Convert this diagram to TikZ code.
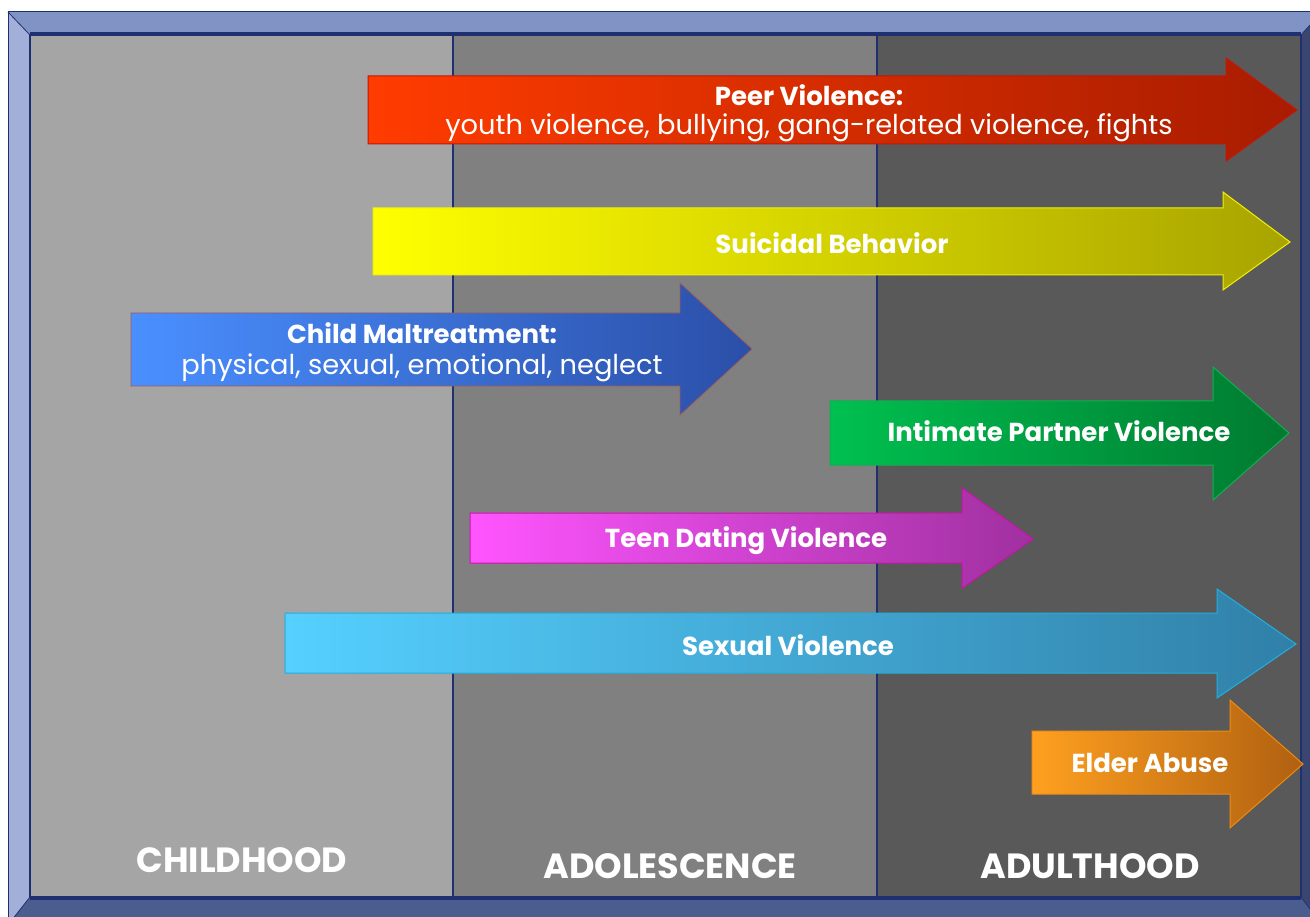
\documentclass[tikz,border=0pt]{standalone}
\usepackage{fontspec}
\setmainfont{Poppins}
\definecolor{frameline}{HTML}{1F3070}
\definecolor{bevtop}{HTML}{8093C4}
\definecolor{bevleft}{HTML}{A2AFD8}
\definecolor{bevbot}{HTML}{4B5C8E}
\definecolor{bevright}{HTML}{3A4670}
\definecolor{childc}{HTML}{A5A5A5}
\definecolor{adolc}{HTML}{808080}
\definecolor{adultc}{HTML}{595959}
\definecolor{redL}{HTML}{FF3C00}\definecolor{redR}{HTML}{A81C00}\definecolor{redB}{HTML}{C81408}
\definecolor{yelL}{HTML}{FFFF00}\definecolor{yelR}{HTML}{A8A400}\definecolor{yelB}{HTML}{F2F000}
\definecolor{bluL}{HTML}{4A8FFF}\definecolor{bluR}{HTML}{2B4FA8}\definecolor{bluB}{HTML}{A05A5A}
\definecolor{grnL}{HTML}{00C050}\definecolor{grnR}{HTML}{007A30}\definecolor{grnB}{HTML}{10B050}
\definecolor{magL}{HTML}{FF55FF}\definecolor{magR}{HTML}{A030A0}\definecolor{magB}{HTML}{D010B0}
\definecolor{cyaL}{HTML}{55D0FF}\definecolor{cyaR}{HTML}{3080A8}\definecolor{cyaB}{HTML}{20B0E0}
\definecolor{oraL}{HTML}{FFA020}\definecolor{oraR}{HTML}{B06010}\definecolor{oraB}{HTML}{F08A10}
\tikzset{
  arr/.style={line width=1pt, line join=miter},
  lbl/.style={text=white, font=\fontsize{26}{30}\selectfont\bfseries, inner sep=0pt, anchor=center},
  sub/.style={text=white, font=\fontsize{27.3}{31}\selectfont, inner sep=0pt, anchor=center},
  age/.style={text=white, font=\fontsize{35}{40}\selectfont\bfseries, inner sep=0pt, anchor=center},
}
\begin{document}
\begin{tikzpicture}[x=1pt,y=-1pt]
\useasboundingbox (0,0) rectangle (1310,917);
\clip (0,0) rectangle (1310,917);
% frame bevels
\fill[bevtop] (8,12) -- (1322,12) -- (1301,35) -- (30,35) -- cycle;
\fill[bevleft] (8,12) -- (30,35) -- (30,897) -- (8,925) -- cycle;
\fill[bevbot] (8,925) -- (30,897) -- (1301,897) -- (1322,925) -- cycle;
\fill[bevright] (1322,12) -- (1301,35) -- (1301,897) -- (1322,925) -- cycle;
\draw[frameline, line width=1pt] (8,12) rectangle (1322,925);
\draw[frameline, line width=0.8pt] (8,12) -- (30,35) (8,925) -- (30,897) (1322,12) -- (1301,35) (1322,925) -- (1301,897);
% panels
\fill[childc] (30,35) rectangle (453,897);
\fill[adolc] (453,35) rectangle (877,897);
\fill[adultc] (877,35) rectangle (1301,897);
\draw[frameline, line width=1.2pt] (30,35) rectangle (1301,897);
\draw[frameline, line width=1.5pt] (30,33) -- (1301,33);
\draw[frameline, line width=1.5pt] (30,899) -- (1301,899);
\draw[frameline, line width=1.2pt] (453,35) -- (453,897) (877,35) -- (877,897);
% Peer violence
\shade[left color=redL, right color=redR] (368,76) -- (1226,76) -- (1226,58) -- (1297,110) -- (1226,161) -- (1226,144) -- (368,144) -- cycle;
\draw[arr, draw=redB] (368,76) -- (1226,76) -- (1226,58) -- (1297,110) -- (1226,161) -- (1226,144) -- (368,144) -- cycle;
\node[lbl] (peer) at (809,95) {Peer Violence:};
\node[sub] (peersub) at (809,128) {youth violence, bullying, gang-related violence, fights};
% Suicidal
\shade[left color=yelL, right color=yelR] (373,208) -- (1223,208) -- (1223,192) -- (1290,242) -- (1223,290) -- (1223,275) -- (373,275) -- cycle;
\draw[arr, draw=yelB] (373,208) -- (1223,208) -- (1223,192) -- (1290,242) -- (1223,290) -- (1223,275) -- (373,275) -- cycle;
\node[lbl] (suic) at (832,243) {Suicidal Behavior};
% Child maltreatment
\shade[left color=bluL, right color=bluR] (131,313) -- (680,313) -- (680,283) -- (752,349) -- (680,415) -- (680,386) -- (131,386) -- cycle;
\draw[line width=0.8pt, draw=bluB] (131,313) -- (680,313) -- (680,283) -- (752,349) -- (680,415) -- (680,386) -- (131,386) -- cycle;
\node[lbl] (child) at (422,333) {Child Maltreatment:};
\node[sub] (childsub) at (422,368) {physical, sexual, emotional, neglect};
% Intimate partner violence
\shade[left color=grnL, right color=grnR] (830,401) -- (1213,401) -- (1213,367) -- (1289,433) -- (1213,500) -- (1213,465) -- (830,465) -- cycle;
\draw[arr, draw=grnB] (830,401) -- (1213,401) -- (1213,367) -- (1289,433) -- (1213,500) -- (1213,465) -- (830,465) -- cycle;
\node[lbl] (ipv) at (1059,431) {Intimate Partner Violence};
% Teen dating violence
\shade[left color=magL, right color=magR] (470,513) -- (962,513) -- (962,488) -- (1033,539) -- (962,588) -- (962,563) -- (470,563) -- cycle;
\draw[arr, draw=magB] (470,513) -- (962,513) -- (962,488) -- (1033,539) -- (962,588) -- (962,563) -- (470,563) -- cycle;
\node[lbl] (teen) at (746,541) {Teen Dating Violence};
% Sexual violence
\shade[left color=cyaL, right color=cyaR] (285,613) -- (1217,613) -- (1217,589) -- (1296,644) -- (1217,698) -- (1217,673) -- (285,673) -- cycle;
\draw[arr, draw=cyaB] (285,613) -- (1217,613) -- (1217,589) -- (1296,644) -- (1217,698) -- (1217,673) -- (285,673) -- cycle;
\node[lbl] (sexual) at (788,645) {Sexual Violence};
% Elder abuse
\shade[left color=oraL, right color=oraR] (1032,731) -- (1230,731) -- (1230,700) -- (1303,764) -- (1230,828) -- (1230,794) -- (1032,794) -- cycle;
\draw[arr, draw=oraB] (1032,731) -- (1230,731) -- (1230,700) -- (1303,764) -- (1230,828) -- (1230,794) -- (1032,794) -- cycle;
\node[lbl] (elder) at (1150,763) {Elder Abuse};
% age labels
\node[age] (childhood) at (242,860) {CHILDHOOD};
\node[age] (adolescence) at (670,866) {ADOLESCENCE};
\node[age] (adulthood) at (1090,866) {ADULTHOOD};
\end{tikzpicture}
\end{document}
